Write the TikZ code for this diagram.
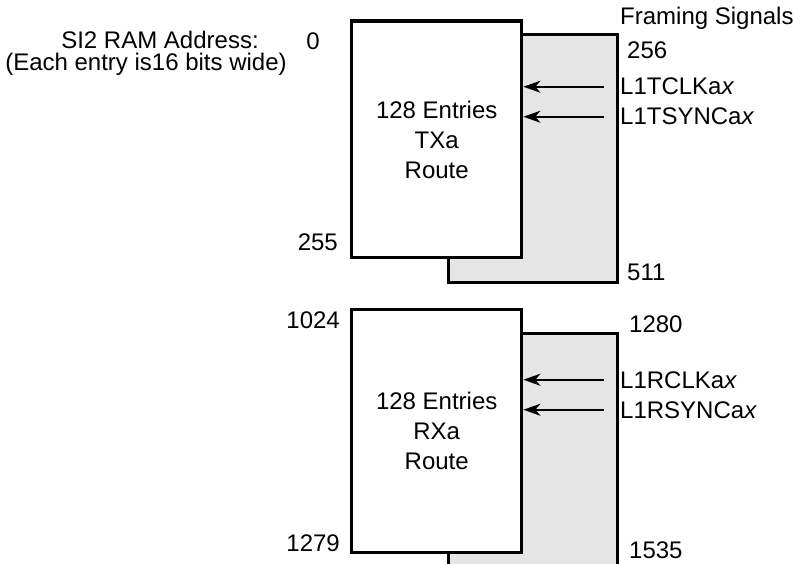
\documentclass[tikz,border=0pt]{standalone}
\usepackage{fontspec}
\setmainfont{Liberation Sans}
\usetikzlibrary{arrows.meta,calc}
\definecolor{shade}{gray}{0.9}
\begin{document}
\begin{tikzpicture}[x=1pt,y=-1pt,
  lbl/.style={font=\fontsize{24}{30}\selectfont, inner sep=0pt},
  frontbox/.style={draw, line width=3.4pt, fill=white, minimum width=170pt,
    anchor=north west, inner sep=0pt, align=center, font=\fontsize{24}{30}\selectfont},
  backbox/.style={draw, line width=3.4pt, fill=shade, minimum width=169pt,
    anchor=north west, inner sep=0pt},
  arr/.style={line width=2.2pt, -{Stealth[length=17pt,width=12pt,inset=5pt]}}]
\useasboundingbox (0,0) rectangle (793,564);

% left heading
\node[lbl, anchor=base] (hd1) at (160,49) {SI2 RAM Address:};
\node[lbl, anchor=base] (hd2) at (146,71) {(Each entry is16 bits wide)};

% TX
\node[backbox, minimum height=248pt] (txback) at (447,33) {};
\node[frontbox, minimum height=236.5pt] (txfront) at (350,19.5) {128 Entries\\TXa\\Route};

% RX
\begin{scope}
\clip (0,0) rectangle (793,564);
\node[backbox, minimum height=262pt] (rxback) at (447,332) {};
\end{scope}
\node[frontbox, minimum height=243pt] (rxfront) at (350,308) {128 Entries\\RXa\\Route};

% address labels
\node[lbl, anchor=base] (a0) at (313,50) {0};
\node[lbl, anchor=base east] (a255) at (338,251) {255};
\node[lbl, anchor=base east] (a1024) at (340,328) {1024};
\node[lbl, anchor=base east] (a1279) at (340,551) {1279};
\node[lbl, anchor=base west] (a256) at (627,59) {256};
\node[lbl, anchor=base west] (a511) at (627,280) {511};
\node[lbl, anchor=base west] (a1280) at (629,333) {1280};
\node[lbl, anchor=base west] (a1535) at (629,558) {1535};

% framing signals
\node[lbl, anchor=base west] (fs) at (620,25) {Framing Signals};
\node[lbl, anchor=base west] (tclk) at (620,95) {L1TCLKa\textit{x}};
\node[lbl, anchor=base west] (tsync) at (620,125) {L1TSYNCa\textit{x}};
\node[lbl, anchor=base west] (rclk) at (620,388) {L1RCLKa\textit{x}};
\node[lbl, anchor=base west] (rsync) at (620,418) {L1RSYNCa\textit{x}};

\draw[arr] ([xshift=-16pt]tclk.west) -- (tclk.west -| txfront.east);
\draw[arr] ([xshift=-16pt]tsync.west) -- (tsync.west -| txfront.east);
\draw[arr] ([xshift=-16pt]rclk.west) -- (rclk.west -| rxfront.east);
\draw[arr] ([xshift=-16pt]rsync.west) -- (rsync.west -| rxfront.east);
\end{tikzpicture}
\end{document}
